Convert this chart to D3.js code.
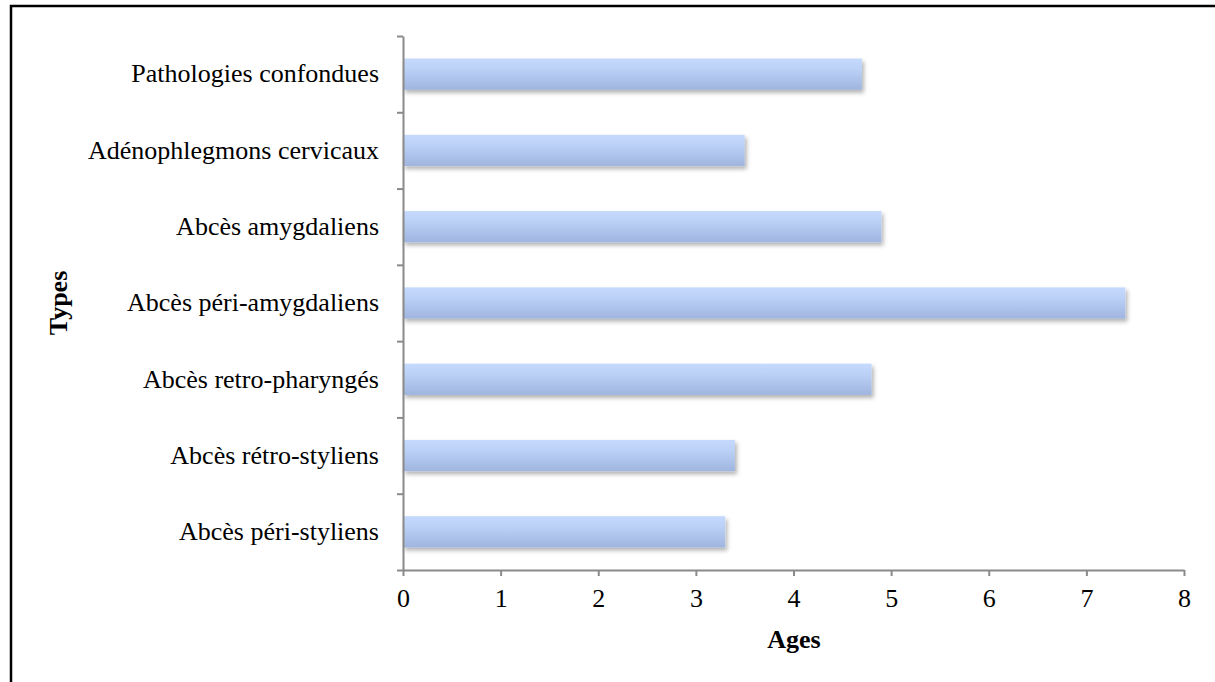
<!DOCTYPE html>
<html>
<head>
<meta charset="utf-8">
<script src="https://cdn.jsdelivr.net/npm/d3@7"></script>
<style>
  html, body { margin: 0; padding: 0; background: #fff; }
  svg { display: block; }
  text { font-family: "Liberation Serif", "Times New Roman", serif; fill: #000; }
</style>
</head>
<body>
<svg id="chart" width="1215" height="682"></svg>
<script>
const categories = [
  "Pathologies confondues",
  "Adénophlegmons cervicaux",
  "Abcès amygdaliens",
  "Abcès péri-amygdaliens",
  "Abcès retro-pharyngés",
  "Abcès rétro-styliens",
  "Abcès péri-styliens"
];
const values = [4.7, 3.5, 4.9, 7.4, 4.8, 3.4, 3.3];
const xTicks = [0, 1, 2, 3, 4, 5, 6, 7, 8];
const xTitle = "Ages";
const yTitle = "Types";

(function () {
const svg = d3.select("#chart");
const W = 1215, H = 682;
const mLeft = 403, mRight = 1184, mTop = 36, mBottom = 570;
const FS = 26;

const defs = svg.append("defs");
const grad = defs.append("linearGradient").attr("id", "barGrad")
  .attr("x1", 0).attr("y1", 0).attr("x2", 0).attr("y2", 1);
grad.append("stop").attr("offset", "0%").attr("stop-color", "#c5d9fd");
grad.append("stop").attr("offset", "30%").attr("stop-color", "#bdd2f7");
grad.append("stop").attr("offset", "100%").attr("stop-color", "#9fb5df");
const filt = defs.append("filter").attr("id", "shadow")
  .attr("x", "-5%").attr("y", "-30%").attr("width", "115%").attr("height", "180%");
filt.append("feDropShadow").attr("dx", 2).attr("dy", 3).attr("stdDeviation", 2)
  .attr("flood-color", "#000").attr("flood-opacity", 0.3);

// frame
svg.append("rect").attr("x", 11).attr("y", 6).attr("width", W).attr("height", H)
  .attr("fill", "none").attr("stroke", "#000").attr("stroke-width", 2.5);

const x = d3.scaleLinear().domain([0, 8]).range([mLeft, mRight]);
const y = d3.scaleBand().domain(categories).range([mTop, mBottom])
  .paddingInner(0.59).paddingOuter(0.295);
const yLin = d3.scaleLinear().domain([0, categories.length]).range([mTop, mBottom]);

// bars
svg.append("g").selectAll("rect").data(categories).join("rect")
  .attr("x", x(0))
  .attr("y", d => y(d))
  .attr("width", (d, i) => x(values[i]) - x(0))
  .attr("height", y.bandwidth())
  .attr("fill", "url(#barGrad)")
  .attr("filter", "url(#shadow)");

// y axis (ticks at band boundaries)
const yAxis = svg.append("g").attr("transform", `translate(${mLeft},0)`)
  .call(d3.axisLeft(yLin).tickValues(d3.range(0, categories.length + 1)).tickFormat("").tickSize(6).tickSizeOuter(0));
yAxis.selectAll("path, line").attr("stroke", "#8a8a8a").attr("stroke-width", 2);

// y labels
const yLab = svg.append("g").attr("transform", `translate(${mLeft},0)`)
  .call(d3.axisLeft(y).tickSize(0).tickPadding(24));
yLab.select(".domain").remove();
yLab.selectAll("text").attr("font-size", FS).attr("font-family", "Liberation Serif").attr("fill", "#000");

// x axis
const xAxis = svg.append("g").attr("transform", `translate(0,${mBottom})`)
  .call(d3.axisBottom(x).tickValues(xTicks).tickFormat(d3.format("d")).tickSize(6).tickSizeOuter(0).tickPadding(13));
xAxis.selectAll("path, line").attr("stroke", "#8a8a8a").attr("stroke-width", 2);
xAxis.selectAll("text").attr("font-size", FS).attr("font-family", "Liberation Serif").attr("fill", "#000");

// titles
svg.append("text").attr("x", 794).attr("y", 648).attr("text-anchor", "middle")
  .attr("font-size", FS).attr("font-weight", "bold").text(xTitle);
svg.append("text").attr("transform", "translate(67,303) rotate(-90)").attr("text-anchor", "middle")
  .attr("font-size", FS).attr("font-weight", "bold").text(yTitle);
})();
</script>
</body>
</html>
